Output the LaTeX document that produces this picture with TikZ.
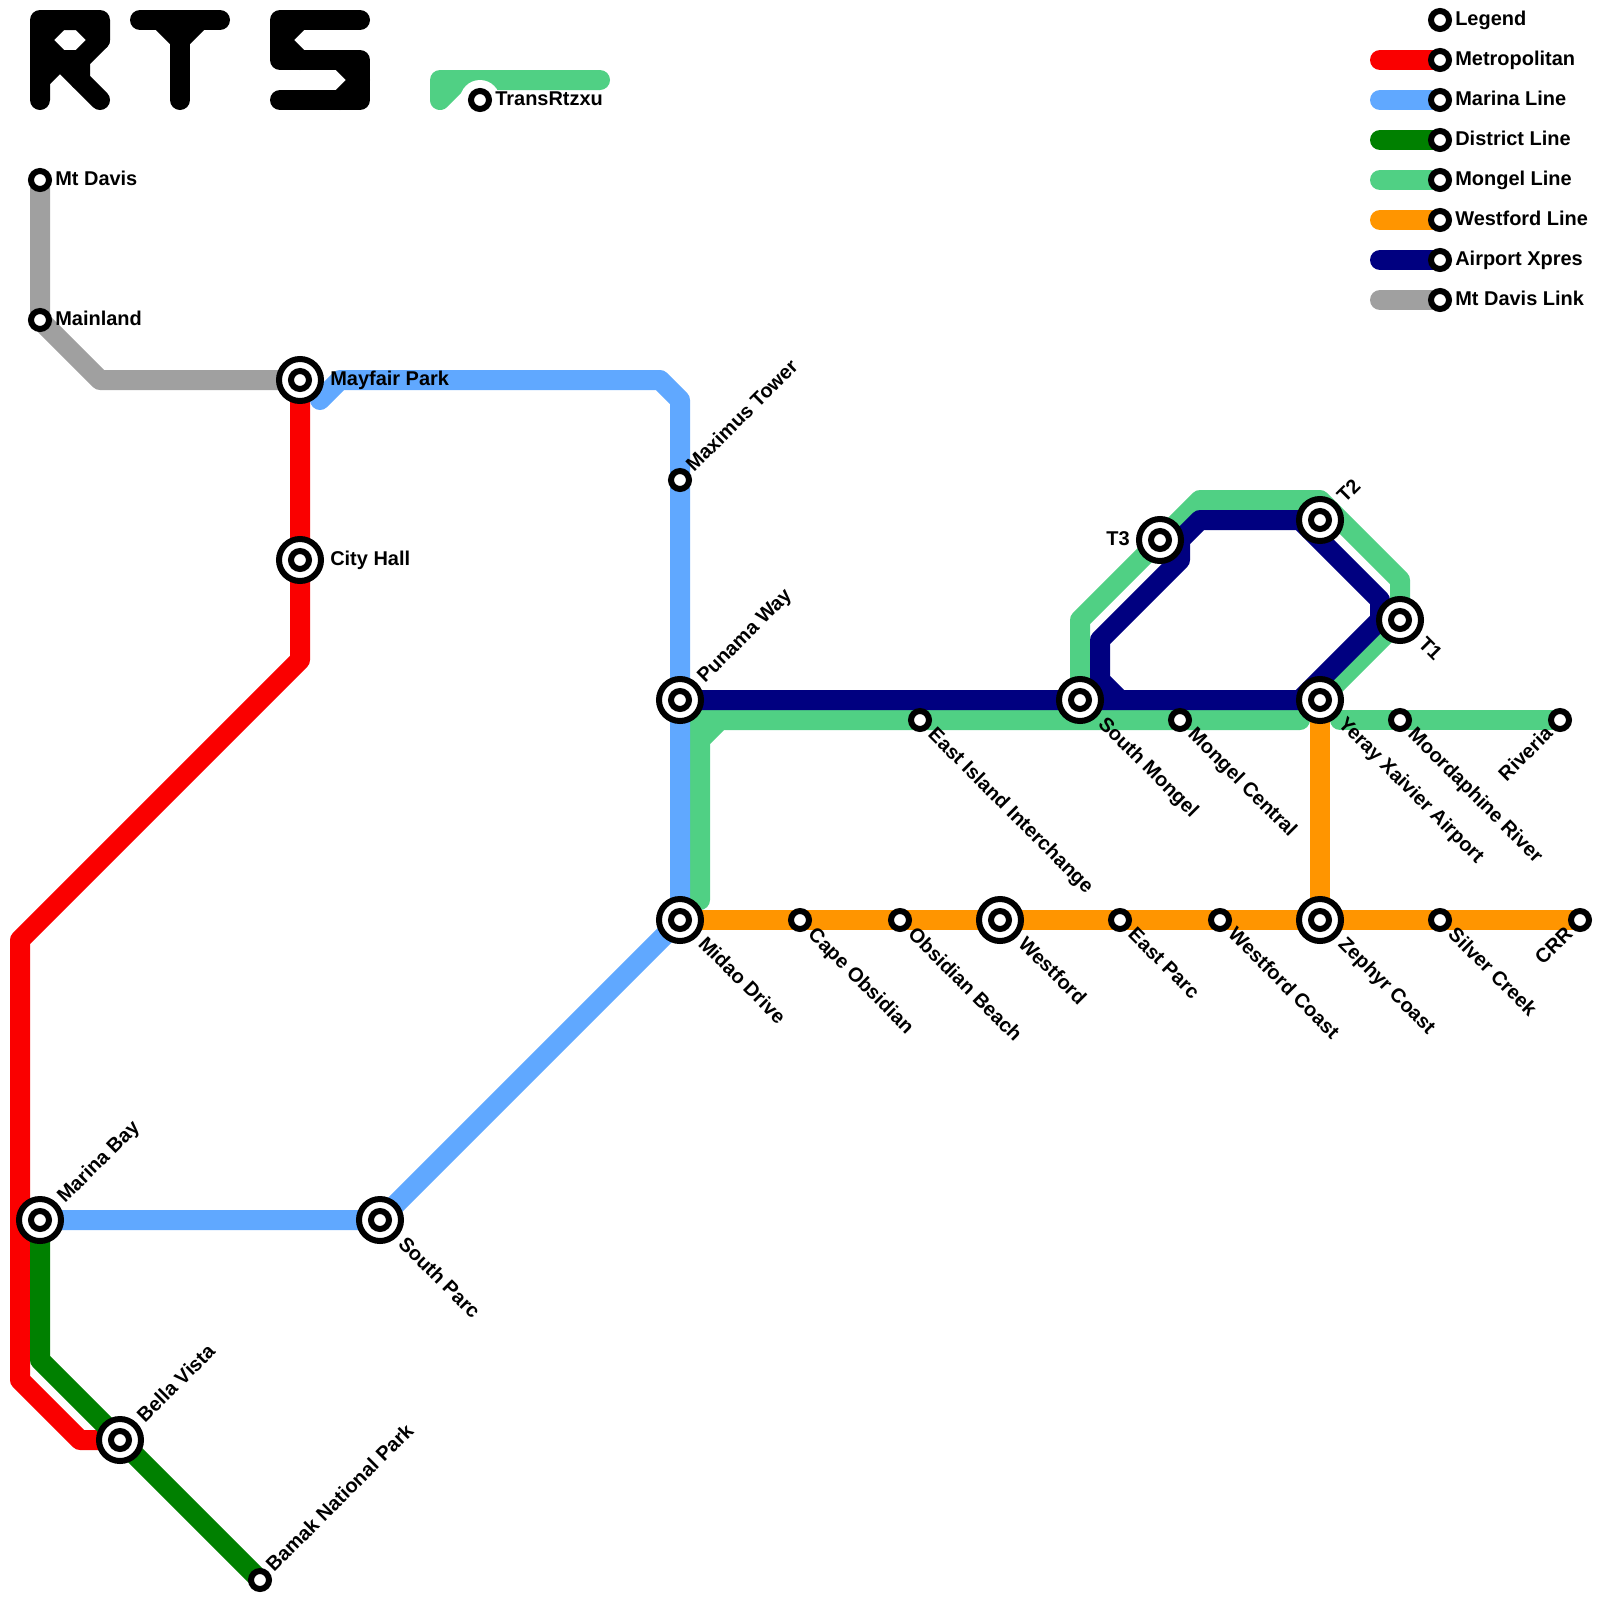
\documentclass[tikz,border=0pt]{standalone}
\usepackage{fontspec}
\setmainfont{Liberation Sans}
\usetikzlibrary{backgrounds}
\definecolor{metrored}{HTML}{FA0000}
\definecolor{marinablue}{HTML}{60A8FF}
\definecolor{districtgreen}{HTML}{008000}
\definecolor{mongelmint}{HTML}{50D084}
\definecolor{westorange}{HTML}{FF9500}
\definecolor{airportnavy}{HTML}{000080}
\definecolor{davisgrey}{HTML}{A0A0A0}
\tikzset{
  metro/.style={line width=.5cm, line cap=round, line join=round},
  stopsmall/.style={circle, draw=black, fill=white, line width=.15cm, minimum size=.45cm, inner sep=0pt, outer sep=0pt},
  stopbig/.style={circle, draw=black, fill=white, line width=.15cm, minimum size=1.05cm, inner sep=0pt, outer sep=0pt},
  tag/.style={inner sep=0pt, font=\fontsize{14.2}{16}\selectfont\bfseries},
  tageast/.style={tag, anchor=base west, xshift=.375cm, yshift=-.13cm},
  tageastbig/.style={tag, anchor=base west, xshift=.75cm, yshift=-.13cm},
  tagdown/.style={tag, anchor=base west, xshift=.175cm, yshift=-.39cm, rotate=-45},
  tagdownbig/.style={tag, anchor=base west, xshift=.43cm, yshift=-.62cm, rotate=-45},
  tagup/.style={tag, anchor=base west, xshift=.35cm, yshift=.18cm, rotate=45},
  tagupbig/.style={tag, anchor=base west, xshift=.625cm, yshift=.4cm, rotate=45},
  tagback/.style={tag, anchor=base east, xshift=-.15cm, yshift=-.37cm, rotate=45},
}
\begin{document}
\begin{tikzpicture}[x=.5cm, y=-.5cm]
    \useasboundingbox (0,0) rectangle (80,80);
    % stations
    \foreach \id/\px/\py/\txt in {mtdavis/2/9/Mt Davis, mainland/2/16/Mainland, transrtzxu/24/5/TransRtzxu,
        legend/72/1/Legend, metropolitan/72/3/Metropolitan, marina/72/5/Marina Line, district/72/7/District Line,
        mongel/72/9/Mongel Line, westfordline/72/11/Westford Line, airport/72/13/Airport Xpres, davislink/72/15/Mt Davis Link}
      {\node[stopsmall] (\id) at (\px,\py) {}; \node[tageast] (\id tag) at (\id) {\txt};}
    \foreach \id/\px/\py/\txt in {mayfair/15/19/Mayfair Park, cityhall/15/28/City Hall}
      {\node[stopbig] (\id) at (\px,\py) {}; \node[stopsmall] (\id core) at (\id) {}; \node[tageastbig] (\id tag) at (\id) {\txt};}
    \foreach \id/\px/\py/\txt in {eastisland/46/36/East Island Interchange, mongelcentral/59/36/Mongel Central,
        moordaphine/70/36/Moordaphine River, capeobsidian/40/46/Cape Obsidian, obsidianbeach/45/46/Obsidian Beach,
        eastparc/56/46/East Parc, westfordcoast/61/46/Westford Coast, silvercreek/72/46/Silver Creek}
      {\node[stopsmall] (\id) at (\px,\py) {}; \node[tagdown] (\id tag) at (\id) {\txt};}
    \foreach \id/\px/\py/\txt in {southmongel/54/35/South Mongel, yeray/66/35/Yeray Xaivier Airport, midao/34/46/Midao Drive,
        westford/50/46/Westford, zephyr/66/46/Zephyr Coast, southparc/19/61/South Parc, tone/70/31/T1}
      {\node[stopbig] (\id) at (\px,\py) {}; \node[stopsmall] (\id core) at (\id) {}; \node[tagdownbig] (\id tag) at (\id) {\txt};}
    \foreach \id/\px/\py/\txt in {maximus/34/24/Maximus Tower, bamak/13/79/Bamak National Park}
      {\node[stopsmall] (\id) at (\px,\py) {}; \node[tagup] (\id tag) at (\id) {\txt};}
    \foreach \id/\px/\py/\txt in {punama/34/35/Punama Way, marinabay/2/61/Marina Bay, bellavista/6/72/Bella Vista, ttwo/66/26/T2}
      {\node[stopbig] (\id) at (\px,\py) {}; \node[stopsmall] (\id core) at (\id) {}; \node[tagupbig] (\id tag) at (\id) {\txt};}
    \foreach \id/\px/\py/\txt in {riveria/78/36/Riveria, crr/79/46/CRR}
      {\node[stopsmall] (\id) at (\px,\py) {}; \node[tagback] (\id tag) at (\id) {\txt};}
    \node[stopbig] (tthree) at (58,27) {};
    \node[stopsmall] (tthree core) at (tthree) {};
    \node[tag, anchor=base east, xshift=-.75cm, yshift=-.13cm] (tthree tag) at (tthree) {T3};
    % free ends of the lines
    \coordinate (bluehook) at (16,20);
    \coordinate (mintwest) at (35,45);
    \coordinate (minteast) at (65,36);
    \coordinate (mintriver) at (67,36);
    \coordinate (navyend) at (56,35);
    \begin{scope}[on background layer]
      \draw[metro, davisgrey] (mtdavis.center) -- (mainland.center) -- (5,19) -- (mayfair.center);
      \draw[metro, metrored] (mayfair.center) -- (cityhall.center) -- (15,33) -- (1,47) -- (1,69) -- (4,72) -- (bellavista.center);
      \draw[metro, districtgreen] (marinabay.center) -- (2,68) -- (bellavista.center) -- (bamak.center);
      \draw[metro, westorange] (midao.center) -- (crr.center);
      \draw[metro, westorange] (yeray.center) -- (zephyr.center);
      \draw[metro, mongelmint, line join=miter, line cap=butt] (35,38) -- (35,36) -- (37,36);
      \draw[metro, mongelmint] (mintwest) -- (35,37) -- (36,36) -- (minteast);
      \draw[metro, mongelmint] (mintriver) -- (riveria.center);
      \draw[metro, mongelmint] (southmongel.center) -- (54,31) -- (60,25) -- (66,25) -- (70,29) -- (tone.center) -- (yeray.center);
      \draw[metro, marinablue] (bluehook) -- (17,19) -- (33,19) -- (34,20) -- (maximus.center) -- (punama.center) -- (midao.center) -- (southparc.center) -- (marinabay.center);
      \draw[metro, airportnavy] (punama.center) -- (65,35) -- (69,31) -- (69,30) -- (65,26) -- (60,26) -- (59,27) -- (59,28) -- (55,32) -- (55,34) -- (navyend);
      % legend bars
      \foreach \id/\col/\py in {metropolitan/metrored/3, marina/marinablue/5, district/districtgreen/7, mongel/mongelmint/9,
          westfordline/westorange/11, airport/airportnavy/13, davislink/davisgrey/15}
        {\draw[metro, \col] (69,\py) -- (\id.center);}
      % logo
      \draw[metro, mongelmint] (30,4) -- (22,4) -- (22,5) -- (23,4);
      \fill[white] (transrtzxu) circle (1);
      \draw[metro] (2,5) -- (2,1) -- (5,1) -- (5,2) -- (4,3) -- (4,4) -- (5,5);
      \draw[metro] (3,1) -- (2,2) -- (3,3) -- (4,3);
      \draw[metro] (4,1) -- (5,2);
      \draw[metro] (2,4) -- (3,3) -- (4,4);
      \draw[metro] (7,1) -- (11,1);
      \draw[metro] (9,5) -- (9,2);
      \draw[metro] (8,1) -- (9,2) -- (10,1);
      \draw[metro] (18,1) -- (14,1) -- (14,3) -- (18,3) -- (18,5) -- (14,5);
      \draw[metro] (15,1) -- (14,2) -- (15,3);
      \draw[metro] (17,3) -- (18,4) -- (17,5);
    \end{scope}
\end{tikzpicture}
\end{document}
